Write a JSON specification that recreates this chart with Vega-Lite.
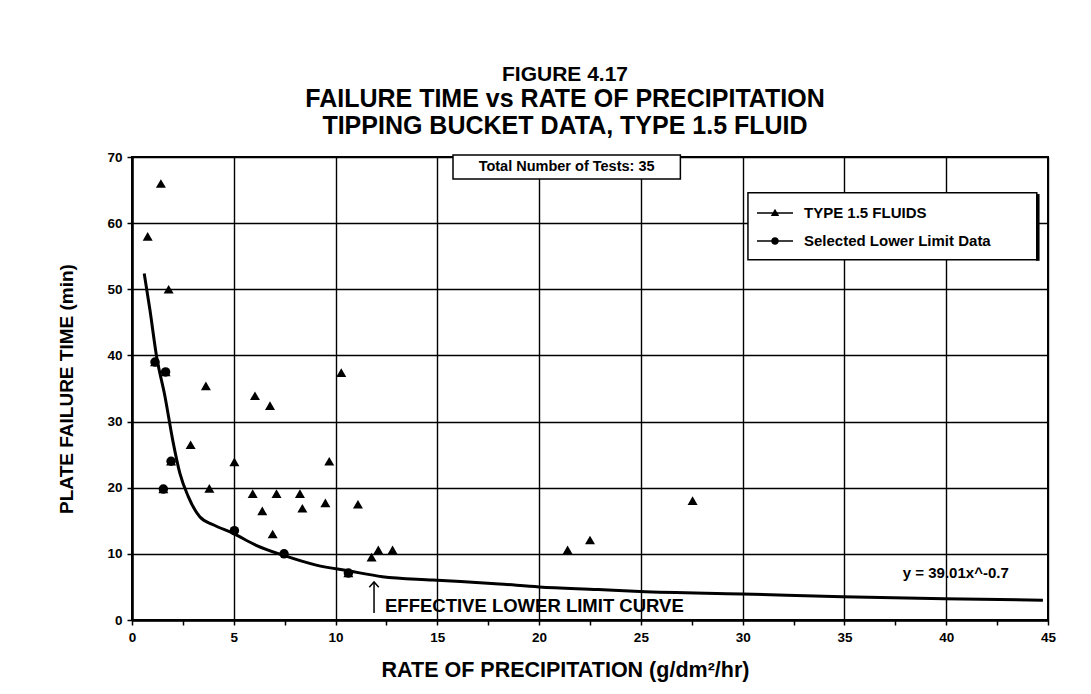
{
  "$schema": "https://vega.github.io/schema/vega-lite/v6.json",
  "width": 916,
  "height": 463,
  "autosize": {"type": "none"},
  "padding": {"left": 132, "top": 157, "right": 43, "bottom": 74},
  "background": "white",
  "config": {
    "font": "Liberation Sans",
    "view": {"stroke": "black", "strokeWidth": 2},
    "axis": {
      "domainColor": "black",
      "domainWidth": 2.5,
      "tickColor": "black",
      "tickWidth": 1.5,
      "tickSize": 5,
      "gridColor": "black",
      "gridWidth": 1.4,
      "labelFont": "Liberation Sans",
      "labelFontWeight": "bold",
      "labelFontSize": 13.5,
      "labelColor": "black",
      "titleFont": "Liberation Sans",
      "titleFontWeight": "bold",
      "titleColor": "black"
    }
  },
  "title": {
    "text": "FIGURE 4.17",
    "subtitle": ["FAILURE TIME vs RATE OF PRECIPITATION", "TIPPING BUCKET DATA, TYPE 1.5 FLUID"],
    "anchor": "middle",
    "dx": -25,
    "font": "Liberation Sans",
    "fontSize": 21,
    "fontWeight": "bold",
    "color": "black",
    "subtitleFont": "Liberation Sans",
    "subtitleFontSize": 25,
    "subtitleFontWeight": "bold",
    "subtitleColor": "black",
    "subtitleLineHeight": 27,
    "subtitlePadding": 2,
    "offset": 11
  },
  "datasets": {
    "tests": [
      {"rate": 0.77, "time": 58}, {"rate": 1.42, "time": 66}, {"rate": 1.8, "time": 50},
      {"rate": 1.13, "time": 39}, {"rate": 1.65, "time": 37.5}, {"rate": 3.63, "time": 35.4},
      {"rate": 6.04, "time": 33.9}, {"rate": 6.78, "time": 32.4}, {"rate": 10.28, "time": 37.4},
      {"rate": 2.88, "time": 26.5}, {"rate": 1.54, "time": 19.8}, {"rate": 1.92, "time": 24},
      {"rate": 5.03, "time": 23.9}, {"rate": 3.8, "time": 19.9}, {"rate": 5.93, "time": 19.1},
      {"rate": 6.4, "time": 16.5}, {"rate": 6.91, "time": 13}, {"rate": 7.1, "time": 19.1},
      {"rate": 8.25, "time": 19.1}, {"rate": 8.37, "time": 16.9}, {"rate": 9.5, "time": 17.7},
      {"rate": 9.69, "time": 24}, {"rate": 11.1, "time": 17.5}, {"rate": 10.63, "time": 7.1},
      {"rate": 11.77, "time": 9.5}, {"rate": 12.1, "time": 10.6}, {"rate": 12.8, "time": 10.6},
      {"rate": 21.4, "time": 10.6}, {"rate": 22.5, "time": 12.1}, {"rate": 27.54, "time": 18.05}
    ],
    "lower": [
      {"rate": 1.13, "time": 39}, {"rate": 1.65, "time": 37.5}, {"rate": 1.54, "time": 19.8},
      {"rate": 1.92, "time": 24}, {"rate": 5.03, "time": 13.5}, {"rate": 7.47, "time": 10},
      {"rate": 10.63, "time": 7.1}
    ],
    "curve": [
      {"rate": 0.6, "time": 52.4}, {"rate": 0.88, "time": 46.9}, {"rate": 1.21, "time": 39.8},
      {"rate": 1.62, "time": 33.8}, {"rate": 2.0, "time": 27.2}, {"rate": 2.35, "time": 22.2},
      {"rate": 2.76, "time": 18.7}, {"rate": 3.33, "time": 15.6}, {"rate": 3.99, "time": 14.4},
      {"rate": 4.97, "time": 13.1}, {"rate": 6.1, "time": 11.3}, {"rate": 7.42, "time": 9.8},
      {"rate": 9.05, "time": 8.3}, {"rate": 10.69, "time": 7.4}, {"rate": 12.3, "time": 6.55},
      {"rate": 14.77, "time": 6.05}, {"rate": 18.04, "time": 5.45}, {"rate": 20, "time": 5.0},
      {"rate": 22.9, "time": 4.6}, {"rate": 24.95, "time": 4.3}, {"rate": 29.97, "time": 3.93},
      {"rate": 34.9, "time": 3.53}, {"rate": 39.9, "time": 3.2}, {"rate": 44.75, "time": 3.0}
    ]
  },
  "layer": [
    {
      "data": {"name": "curve"},
      "mark": {"type": "line", "color": "black", "strokeWidth": 3, "interpolate": "monotone"},
      "encoding": {
        "x": {
          "field": "rate", "type": "quantitative",
          "scale": {"domain": [0, 45], "nice": false, "zero": false},
          "axis": {
            "title": "RATE OF PRECIPITATION (g/dm²/hr)",
            "titleFontSize": 21.5,
            "titlePadding": 16,
            "titleX": 433,
            "values": [0, 2.5, 5, 7.5, 10, 12.5, 15, 17.5, 20, 22.5, 25, 27.5, 30, 32.5, 35, 37.5, 40, 42.5, 45],
            "format": "d",
            "labelExpr": "datum.value % 5 === 0 ? datum.label : ''",
            "labelPadding": 5,
            "labelFlush": false,
            "grid": true,
            "gridOpacity": {"condition": {"test": "datum.value % 5 === 0", "value": 1}, "value": 0}
          }
        },
        "y": {
          "field": "time", "type": "quantitative",
          "scale": {"domain": [0, 70], "nice": false},
          "axis": {
            "title": "PLATE FAILURE TIME (min)",
            "titleFontSize": 19,
            "titlePadding": 30,
            "values": [0, 5, 10, 15, 20, 25, 30, 35, 40, 45, 50, 55, 60, 65, 70],
            "labelExpr": "datum.value % 10 === 0 ? datum.label : ''",
            "labelPadding": 5,
            "labelFlush": false,
            "grid": true,
            "gridOpacity": {"condition": {"test": "datum.value % 10 === 0", "value": 1}, "value": 0}
          }
        }
      }
    },
    {
      "data": {"values": [{"box": "legend"}]},
      "mark": {"type": "rect", "fill": "white", "stroke": "black", "strokeWidth": 1.5},
      "encoding": {
        "x": {"datum": 30.26, "type": "quantitative"},
        "x2": {"datum": 44.45},
        "y": {"datum": 64.6, "type": "quantitative"},
        "y2": {"datum": 54.46}
      }
    },
    {
      "data": {"values": [{"box": "shadow"}]},
      "mark": {"type": "rule", "color": "black", "strokeWidth": 3.5},
      "encoding": {
        "x": {"datum": 44.5, "type": "quantitative"},
        "y": {"datum": 64.4, "type": "quantitative"},
        "y2": {"datum": 54.3}
      }
    },
    {
      "data": {"values": [{"box": "tests"}]},
      "mark": {"type": "rect", "fill": "white", "stroke": "black", "strokeWidth": 1.5, "clip": false},
      "encoding": {
        "x": {"datum": 15.77, "type": "quantitative"},
        "x2": {"datum": 26.94},
        "y": {"datum": 70.3, "type": "quantitative"},
        "y2": {"datum": 66.67}
      }
    },
    {
      "data": {"values": [{"label": "Total Number of Tests: 35"}]},
      "mark": {"type": "text", "font": "Liberation Sans", "fontWeight": "bold", "fontSize": 14.5, "color": "black", "align": "center", "baseline": "middle"},
      "encoding": {
        "x": {"datum": 21.35, "type": "quantitative"},
        "y": {"datum": 68.5, "type": "quantitative"},
        "text": {"field": "label"}
      }
    },
    {
      "data": {"name": "tests"},
      "mark": {"type": "point", "shape": "triangle-up", "filled": true, "color": "black", "opacity": 1, "size": 100},
      "encoding": {
        "x": {"field": "rate", "type": "quantitative"},
        "y": {"field": "time", "type": "quantitative"}
      }
    },
    {
      "data": {"name": "lower"},
      "mark": {"type": "point", "shape": "circle", "filled": true, "color": "black", "opacity": 1, "size": 90},
      "encoding": {
        "x": {"field": "rate", "type": "quantitative"},
        "y": {"field": "time", "type": "quantitative"}
      }
    },
    {
      "data": {"values": [{"a": 1}]},
      "mark": {"type": "rule", "color": "black", "strokeWidth": 1.5},
      "encoding": {
        "x": {"datum": 11.89, "type": "quantitative"},
        "y": {"datum": 1.06, "type": "quantitative"},
        "y2": {"datum": 5.75}
      }
    },
    {
      "data": {"values": [{"a": 1}]},
      "mark": {"type": "point", "shape": "M-1,1.1L0,0L1,1.1", "filled": false, "stroke": "black", "strokeWidth": 1.5, "opacity": 1, "size": 90},
      "encoding": {
        "x": {"datum": 11.89, "type": "quantitative"},
        "y": {"datum": 5.75, "type": "quantitative"}
      }
    },
    {
      "data": {"values": [{"label": "EFFECTIVE LOWER LIMIT CURVE"}]},
      "mark": {"type": "text", "font": "Liberation Sans", "fontWeight": "bold", "fontSize": 18.5, "color": "black", "align": "left", "baseline": "alphabetic"},
      "encoding": {
        "x": {"datum": 12.43, "type": "quantitative"},
        "y": {"datum": 1.25, "type": "quantitative"},
        "text": {"field": "label"}
      }
    },
    {
      "data": {"values": [{"label": "y = 39.01x^-0.7"}]},
      "mark": {"type": "text", "font": "Liberation Sans", "fontWeight": "bold", "fontSize": 15, "color": "black", "align": "center", "baseline": "alphabetic"},
      "encoding": {
        "x": {"datum": 40.47, "type": "quantitative"},
        "y": {"datum": 6.3, "type": "quantitative"},
        "text": {"field": "label"}
      }
    },
    {
      "data": {"values": [{"series": "TYPE 1.5 FLUIDS"}, {"series": "Selected Lower Limit Data"}]},
      "transform": [{"filter": "datum.series == 'none'"}],
      "mark": {"type": "point", "filled": true, "color": "black", "opacity": 1},
      "encoding": {
        "shape": {
          "field": "series", "type": "nominal",
          "scale": {
            "domain": ["TYPE 1.5 FLUIDS", "Selected Lower Limit Data"],
            "range": [
              "M-1.8,-0.07H1.8V0.07H-1.8ZM0,-0.42L0.42,0.3L-0.42,0.3Z",
              "M-1.8,-0.07H1.8V0.07H-1.8ZM0.38,0A0.38,0.38,0,1,1,-0.38,0A0.38,0.38,0,1,1,0.38,0Z"
            ]
          },
          "legend": {
            "title": null,
            "orient": "none",
            "legendX": 633,
            "legendY": 46,
            "padding": 0,
            "rowPadding": 10,
            "labelOffset": 19,
            "symbolSize": 400,
            "symbolFillColor": "black",
            "symbolStrokeColor": "black",
            "symbolStrokeWidth": 0,
            "symbolOpacity": 1,
            "labelFont": "Liberation Sans",
            "labelFontWeight": "bold",
            "labelFontSize": 15,
            "labelColor": "black",
            "labelLimit": 400
          }
        }
      }
    }
  ]
}
